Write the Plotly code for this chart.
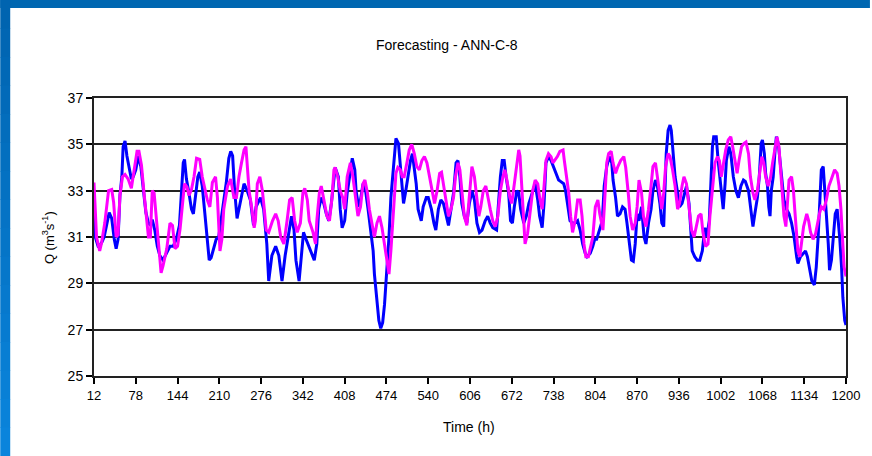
import plotly.graph_objects as go

# Observed discharge (hours, m3/s)
t_obs = [12, 14, 19, 24, 28, 32, 36, 40, 44, 47, 50, 53, 56, 58, 61, 64, 68, 71, 74, 78,
         82, 86, 90, 94, 98, 101, 104, 108, 112, 116, 121, 127, 132, 137, 142, 147, 150, 153, 155, 158,
         162, 166, 169, 172, 176, 179, 183, 187, 191, 194, 197, 201, 205, 209, 213, 217, 221, 225, 228, 231,
         234, 238, 241, 245, 249, 254, 259, 264, 268, 275, 280, 285, 288, 293, 299, 304, 309, 314, 320, 324,
         328, 331, 336, 340, 343, 347, 351, 357, 360, 364, 367, 371, 375, 379, 383, 387, 391, 393, 398, 401,
         404, 408, 412, 416, 420, 424, 426, 430, 433, 437, 441, 445, 449, 453, 455, 459, 462, 465, 468, 471,
         475, 478, 481, 484, 487, 489, 493, 496, 499, 501, 504, 508, 512, 515, 518, 521, 524, 529, 532, 537,
         540, 545, 549, 552, 556, 560, 564, 568, 572, 576, 580, 584, 587, 590, 593, 597, 601, 605, 609, 613,
         617, 621, 625, 630, 634, 638, 642, 648, 651, 654, 657, 660, 663, 667, 670, 673, 676, 680, 683, 686,
         691, 695, 699, 702, 706, 709, 713, 716, 720, 723, 726, 730, 734, 738, 742, 746, 749, 754, 757, 761,
         764, 768, 772, 776, 780, 784, 788, 791, 796, 800, 803, 806, 810, 815, 818, 822, 826, 830, 832, 836,
         839, 843, 847, 851, 854, 858, 861, 864, 867, 870, 873, 877, 881, 884, 888, 892, 895, 899, 902, 906,
         909, 912, 914, 916, 919, 922, 924, 927, 930, 934, 937, 941, 945, 948, 952, 955, 957, 961, 965, 969,
         973, 977, 980, 984, 986, 989, 991, 995, 998, 1002, 1004, 1006, 1009, 1011, 1015, 1018, 1022, 1026, 1030, 1034,
         1038, 1041, 1046, 1050, 1053, 1056, 1060, 1063, 1066, 1068, 1071, 1073, 1076, 1078, 1080, 1082, 1085, 1088, 1090, 1093,
         1096, 1099, 1102, 1106, 1110, 1114, 1118, 1122, 1124, 1128, 1132, 1136, 1139, 1143, 1146, 1150, 1153, 1156, 1159, 1161,
         1164, 1166, 1169, 1172, 1174, 1177, 1180, 1183, 1186, 1190, 1193, 1195, 1198, 1200]
q_obs = [32.5, 31.0, 30.55, 30.75, 31.0, 31.5, 32.05, 31.8, 30.9, 30.5, 30.9, 32.8, 33.6, 34.9, 35.15, 34.5, 33.9, 33.5, 33.6, 33.9,
         34.5, 34.05, 33.05, 32.05, 31.6, 31.5, 31.75, 31.3, 30.6, 30.2, 30.0, 30.3, 30.6, 30.6, 30.9, 31.5, 33.05, 34.2, 34.35, 33.5,
         32.9, 32.2, 32.0, 32.6, 33.6, 33.8, 33.2, 32.05, 30.9, 30.0, 30.1, 30.5, 30.9, 31.0, 31.75, 32.5, 33.35, 34.4, 34.7, 34.5,
         33.05, 31.8, 32.2, 32.8, 33.3, 33.0, 32.6, 31.5, 32.3, 32.7, 32.2, 30.7, 29.1, 30.2, 30.6, 30.2, 29.1, 30.2, 31.2, 31.9,
         31.3, 30.0, 29.1, 30.3, 31.2, 30.9, 30.6, 30.15, 30.0, 30.7, 32.2, 32.7, 32.45, 32.0, 31.7, 32.45, 33.5, 34.0, 33.6, 32.2,
         31.4, 31.7, 32.9, 33.75, 34.4, 33.9, 33.0, 32.3, 32.6, 33.3, 33.0, 32.2, 31.4, 30.4, 29.4, 28.4, 27.4, 27.06, 27.3, 28.1,
         29.6, 31.0, 32.7, 33.75, 34.76, 35.26, 35.04, 34.04, 33.2, 32.45, 32.9, 33.6, 34.3, 34.6, 34.0, 33.3, 32.2, 31.7, 32.3, 32.7,
         32.7, 32.2, 31.6, 31.3, 32.2, 32.6, 32.45, 31.9, 31.5, 32.2, 32.9, 34.2, 34.3, 33.6, 32.45, 31.9, 31.6, 32.45, 33.0, 32.6,
         31.6, 31.2, 31.3, 31.7, 31.9, 31.6, 31.4, 31.3, 32.45, 33.6, 34.3, 34.3, 33.6, 32.9, 31.7, 31.6, 32.3, 33.0, 32.9, 32.2,
         31.6, 31.9, 32.45, 32.7, 33.0, 33.3, 32.6, 31.9, 31.4, 32.45, 34.2, 34.47, 34.3, 34.0, 33.75, 33.46, 33.4, 33.3, 33.0, 32.2,
         31.7, 31.6, 31.6, 31.7, 31.3, 30.7, 30.3, 30.15, 30.3, 30.6, 30.9, 30.9, 31.3, 31.7, 33.2, 34.04, 34.47, 34.2, 33.46, 32.7,
         31.9, 32.0, 32.3, 32.2, 31.6, 30.7, 30.0, 29.95, 30.7, 32.0, 31.7, 32.3, 31.0, 30.7, 31.6, 32.2, 33.0, 33.46, 33.2, 32.45,
         31.6, 31.45, 33.0, 34.6, 35.6, 35.83, 35.6, 34.6, 33.6, 32.9, 32.3, 32.45, 32.9, 33.2, 32.45, 31.0, 30.4, 30.15, 30.0, 30.0,
         30.4, 31.4, 31.0, 31.7, 33.3, 34.9, 35.33, 35.33, 34.3, 33.2, 32.45, 32.2, 33.3, 34.3, 34.9, 34.6, 33.6, 33.0, 32.7, 33.2,
         33.46, 33.4, 33.0, 32.2, 31.45, 32.0, 32.7, 33.6, 35.04, 35.19, 34.6, 33.75, 33.2, 32.3, 31.9, 33.0, 33.6, 34.76, 35.33, 35.04,
         34.2, 33.2, 32.6, 32.2, 32.0, 31.6, 31.0, 30.15, 29.86, 30.15, 30.3, 30.4, 30.15, 29.57, 29.1, 28.93, 29.7, 31.0, 32.6, 33.9,
         34.04, 33.2, 32.2, 30.7, 29.57, 30.0, 31.0, 32.0, 32.2, 31.0, 29.7, 28.4, 27.4, 27.2]

# ANN-C-8 forecast (hours, m3/s)
t_fc = [12, 16, 21, 24, 29, 35, 40, 43, 47, 50, 53, 57, 61, 66, 71, 77, 80, 83, 87, 91,
        94, 98, 101, 104, 107, 110, 113, 118, 121, 127, 132, 136, 140, 144, 148, 152, 155, 159, 162, 166,
        170, 174, 179, 183, 187, 191, 195, 199, 204, 207, 211, 214, 217, 223, 228, 233, 237, 241, 245, 249,
        252, 254, 257, 261, 265, 267, 270, 274, 278, 281, 284, 288, 294, 299, 303, 307, 312, 317, 321, 325,
        329, 333, 338, 342, 345, 349, 352, 358, 362, 364, 368, 371, 375, 380, 384, 388, 391, 393, 397, 401,
        405, 408, 412, 417, 421, 425, 429, 433, 437, 440, 444, 447, 451, 455, 459, 463, 467, 471, 475, 478,
        481, 484, 487, 489, 492, 496, 499, 502, 507, 510, 514, 518, 522, 526, 530, 534, 538, 542, 546, 550,
        554, 558, 561, 564, 568, 572, 576, 580, 583, 587, 590, 593, 597, 601, 603, 606, 609, 613, 616, 620,
        623, 627, 631, 634, 638, 642, 646, 650, 654, 658, 661, 664, 669, 672, 676, 680, 683, 685, 688, 691,
        693, 697, 701, 705, 709, 713, 716, 720, 723, 726, 730, 734, 737, 740, 744, 748, 753, 755, 758, 762,
        765, 768, 772, 776, 780, 783, 786, 789, 793, 797, 800, 804, 808, 811, 816, 818, 822, 825, 829, 832,
        836, 839, 844, 849, 852, 856, 859, 863, 867, 870, 873, 877, 880, 884, 888, 892, 895, 899, 902, 906,
        909, 912, 915, 919, 922, 926, 930, 934, 937, 941, 944, 948, 952, 956, 960, 964, 967, 971, 974, 978,
        982, 985, 989, 993, 997, 1000, 1003, 1006, 1010, 1014, 1018, 1021, 1025, 1028, 1031, 1035, 1039, 1042, 1046, 1049,
        1053, 1056, 1060, 1063, 1067, 1070, 1073, 1077, 1081, 1084, 1088, 1091, 1094, 1097, 1100, 1102, 1105, 1108, 1110, 1114,
        1117, 1119, 1122, 1124, 1127, 1130, 1133, 1138, 1141, 1144, 1148, 1152, 1155, 1158, 1161, 1165, 1169, 1173, 1177, 1182,
        1186, 1189, 1192, 1194, 1197, 1200]
q_fc = [33.35, 31.0, 30.4, 30.75, 31.6, 33.0, 33.05, 32.5, 31.0, 31.1, 32.8, 33.6, 33.7, 33.5, 33.1, 34.1, 34.7, 34.7, 34.1, 32.9,
        32.05, 31.0, 31.0, 33.0, 32.9, 32.0, 31.0, 29.45, 29.75, 30.5, 31.6, 31.5, 30.5, 30.6, 31.35, 32.6, 33.3, 33.15, 32.8, 33.05,
        33.6, 34.4, 34.35, 33.6, 33.05, 32.6, 32.3, 33.35, 33.6, 32.7, 30.4, 30.9, 32.2, 33.2, 33.5, 32.7, 32.7, 33.6, 34.2, 34.75,
        34.9, 34.2, 33.0, 32.3, 31.4, 31.7, 33.3, 33.6, 33.0, 32.2, 31.3, 31.2, 31.7, 32.0, 31.7, 31.0, 30.7, 31.7, 32.6, 32.7,
        31.7, 31.2, 31.6, 32.9, 33.1, 32.6, 31.7, 31.2, 30.7, 31.7, 32.9, 33.2, 32.6, 31.9, 31.7, 32.7, 33.9, 34.0, 33.6, 33.0,
        32.7, 32.2, 33.6, 34.2, 33.6, 32.7, 31.9, 32.3, 33.3, 33.46, 32.9, 32.2, 31.6, 31.0, 31.6, 31.9, 31.4, 30.7, 30.0, 29.4,
        30.4, 31.7, 32.9, 33.75, 34.0, 33.9, 33.6, 33.6, 34.3, 34.76, 35.0, 34.6, 34.04, 33.9, 34.3, 34.47, 34.2, 33.6, 32.9, 32.45,
        33.0, 33.75, 33.8, 33.3, 32.6, 31.9, 32.2, 32.7, 33.6, 34.2, 33.9, 32.9, 31.9, 31.5, 32.2, 33.2, 34.04, 33.6, 32.9, 31.9,
        32.3, 33.0, 33.2, 32.7, 32.2, 31.7, 31.45, 31.9, 33.0, 33.6, 33.9, 33.5, 32.7, 32.45, 33.3, 34.3, 34.76, 34.5, 32.9, 31.7,
        30.7, 31.15, 32.2, 33.0, 33.46, 33.3, 32.7, 32.2, 33.2, 34.3, 34.6, 34.47, 34.2, 34.3, 34.47, 34.7, 34.76, 34.3, 33.6, 32.9,
        31.9, 31.2, 31.7, 32.6, 32.6, 31.9, 30.7, 30.15, 30.15, 30.7, 31.0, 32.3, 32.6, 32.0, 31.3, 32.2, 34.2, 34.6, 34.7, 34.2,
        33.75, 34.0, 34.3, 34.47, 34.0, 32.9, 31.9, 31.3, 31.6, 32.3, 33.46, 32.9, 31.9, 31.45, 32.2, 33.2, 34.04, 34.2, 33.6, 32.7,
        32.2, 32.9, 34.04, 34.6, 34.47, 33.9, 33.2, 32.2, 32.45, 33.2, 33.6, 33.3, 32.2, 31.3, 31.0, 31.45, 31.9, 32.0, 31.2, 30.6,
        30.7, 31.9, 33.2, 34.2, 34.47, 34.3, 33.6, 34.2, 34.76, 35.19, 35.33, 34.9, 34.2, 33.75, 34.3, 34.9, 35.04, 35.1, 34.6, 33.6,
        32.9, 32.6, 33.0, 33.75, 34.47, 34.2, 33.6, 33.2, 33.6, 34.2, 34.9, 35.33, 34.9, 33.75, 32.7, 31.9, 31.45, 32.6, 33.46, 33.6,
        33.0, 32.2, 31.3, 30.4, 30.15, 30.7, 31.45, 32.0, 31.7, 31.2, 30.9, 31.15, 31.6, 32.0, 32.3, 32.2, 32.6, 33.2, 33.5, 33.9,
        33.75, 33.2, 32.2, 31.0, 29.7, 29.3]

x_ticks = list(range(12, 1201, 66))
y_ticks = [25, 27, 29, 31, 33, 35, 37]

W, H = 872, 456
ML, MR, MT, MB = 94, 24, 98, 80
PW, PH = W - ML - MR, H - MT - MB


def px(x):
    return (x - ML) / PW


def py(y):
    return (H - MB - y) / PH


FONT = "Arial, Liberation Sans, sans-serif"

fig = go.Figure()
fig.add_trace(go.Scatter(x=t_obs, y=q_obs, mode="lines",
                         line=dict(color="#0000FF", width=3), name="Observed"))
fig.add_trace(go.Scatter(x=t_fc, y=q_fc, mode="lines",
                         line=dict(color="#FF00FF", width=3), name="ANN-C-8"))

shapes = []
# slide frame: top band and a left band shaded from dark to light blue
shapes.append(dict(type="rect", xref="paper", yref="paper", layer="above",
                   x0=px(0), x1=px(W), y0=py(8), y1=py(0),
                   fillcolor="#0067B1", line=dict(width=0)))
n_seg = 16
c0, c1 = (0, 100, 176), (10, 132, 220)
for i in range(n_seg):
    f = i / (n_seg - 1)
    col = "rgb({},{},{})".format(*[round(a + (b - a) * f) for a, b in zip(c0, c1)])
    y0 = H * i / n_seg
    y1 = H * (i + 1) / n_seg
    shapes.append(dict(type="rect", xref="paper", yref="paper", layer="above",
                       x0=px(0), x1=px(10), y0=py(y1 + 0.5), y1=py(y0),
                       fillcolor=col, line=dict(width=0)))

annotations = [
    dict(text="Forecasting - ANN-C-8", x=px(448), y=py(45), xref="paper", yref="paper",
         showarrow=False, font=dict(family=FONT, size=14, color="#000000"),
         xanchor="center", yanchor="middle"),
    dict(text="Q (m<sup>3</sup>s<sup>-1</sup>)", x=px(48), y=py(238), xref="paper", yref="paper",
         showarrow=False, textangle=-90, font=dict(family=FONT, size=13, color="#000000"),
         xanchor="center", yanchor="middle"),
    dict(text="Time (h)", x=px(470), y=py(427), xref="paper", yref="paper",
         showarrow=False, font=dict(family=FONT, size=14, color="#000000"),
         xanchor="center", yanchor="middle"),
]

fig.update_layout(
    width=W, height=H,
    margin=dict(l=ML, r=MR, t=MT, b=MB, pad=0),
    paper_bgcolor="#FFFFFF", plot_bgcolor="#FFFFFF",
    showlegend=False,
    shapes=shapes,
    annotations=annotations,
    font=dict(family=FONT, size=13, color="#000000"),
)
fig.update_xaxes(range=[12, 1200], tickvals=x_ticks, ticktext=[str(v) for v in x_ticks],
                 ticks="outside", ticklen=6, tickwidth=1.5, tickcolor="#000000",
                 showline=True, linecolor="#222222", linewidth=2, mirror=True,
                 showgrid=False, zeroline=False,
                 tickfont=dict(family=FONT, size=13, color="#000000"))
fig.update_yaxes(range=[25, 37], tickvals=y_ticks, ticks="outside", ticklen=6,
                 tickwidth=1.5, tickcolor="#000000",
                 showline=True, linecolor="#222222", linewidth=2, mirror=True,
                 showgrid=True, gridcolor="#222222", gridwidth=1.6, zeroline=False,
                 tickfont=dict(family=FONT, size=14, color="#000000"))

fig.write_html("out.html")
